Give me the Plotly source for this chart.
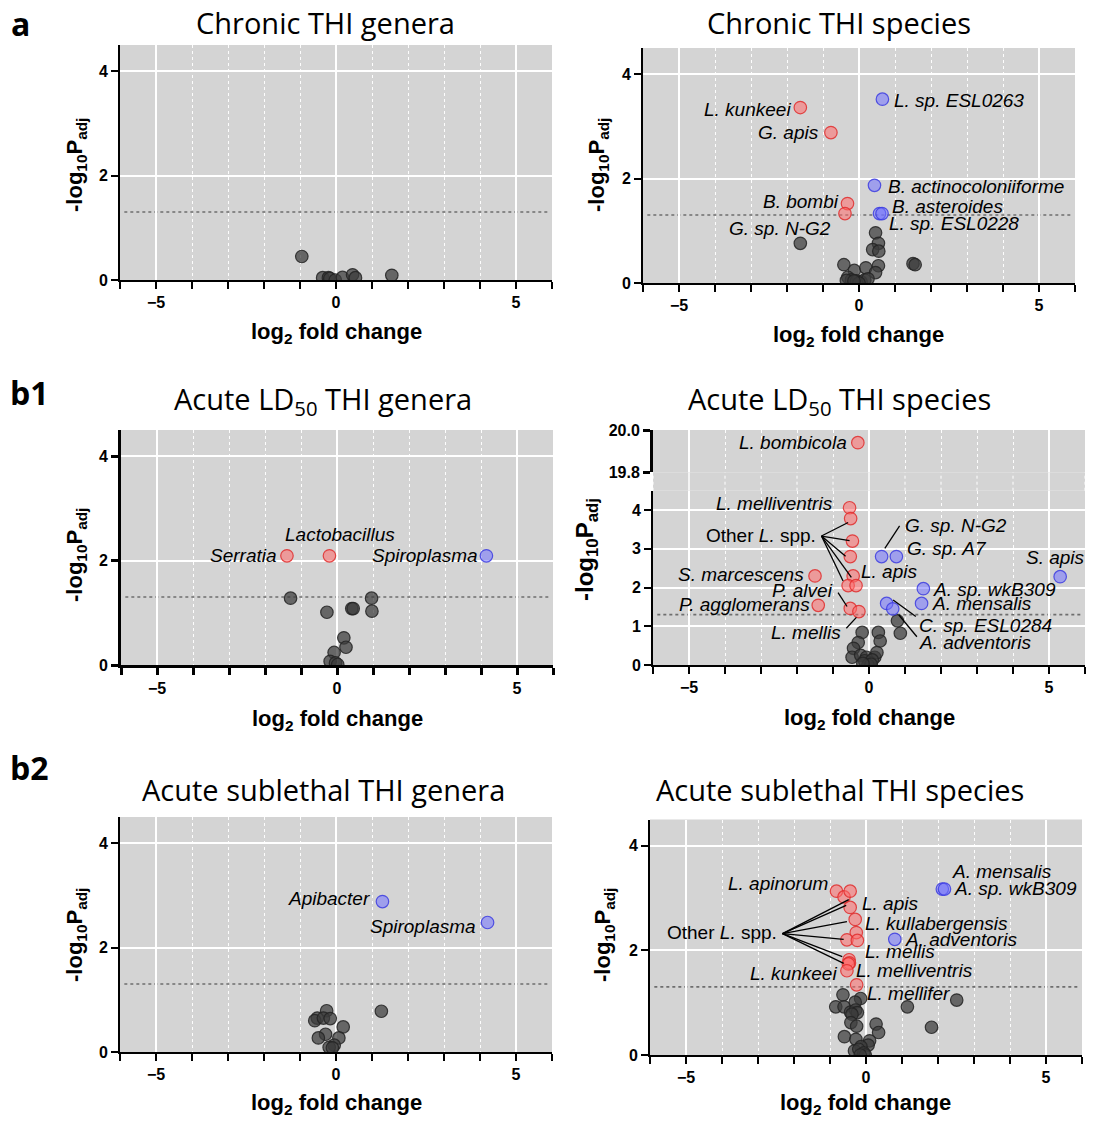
import math
import plotly.graph_objects as go

W, H = 1097, 1121

# ---------------- data ----------------
# Panel a (left): Chronic THI genera
chronic_gen_ns_x = [-0.95, -0.37, -0.21, -0.17, -0.02, 0.18, 0.46, 0.54, 1.55]
chronic_gen_ns_y = [0.45, 0.045, 0.045, 0.03, 0.0, 0.05, 0.10, 0.045, 0.09]

# Panel a (right): Chronic THI species
chronic_sp_down_x = [-1.63, -0.78, -0.32, -0.39]
chronic_sp_down_y = [3.36, 2.88, 1.52, 1.33]
chronic_sp_up_x = [0.65, 0.43, 0.57, 0.64]
chronic_sp_up_y = [3.52, 1.87, 1.33, 1.33]
chronic_sp_ns_x = [-1.63, 0.46, 0.54, 0.38, 0.55, -0.42, -0.13, 0.19, 0.54, 0.46, 1.50,
                   1.56, -0.31, -0.21, -0.35, -0.07, 0.06, 0.16, 0.25, 0.0, -0.14]
chronic_sp_ns_y = [0.76, 0.96, 0.76, 0.64, 0.61, 0.35, 0.24, 0.29, 0.33, 0.20, 0.37,
                   0.35, 0.11, 0.06, 0.05, 0.04, 0.02, 0.06, 0.08, 0.0, 0.04]

# Panel b1 (left): Acute LD50 THI genera
ld50_gen_down_x = [-1.39, -0.21]
ld50_gen_down_y = [2.09, 2.09]
ld50_gen_up_x = [4.15]
ld50_gen_up_y = [2.09]
ld50_gen_ns_x = [-1.29, 0.96, -0.28, 0.41, 0.45, 0.97, 0.19, 0.25, -0.08, -0.19, -0.04, 0.02]
ld50_gen_ns_y = [1.28, 1.28, 1.01, 1.08, 1.08, 1.03, 0.52, 0.34, 0.24, 0.07, 0.04, 0.01]

# Panel b1 (right): Acute LD50 THI species
ld50_sp_high_x = [-0.31]          # on the upper (broken) axis segment
ld50_sp_high_y = [19.94]
ld50_sp_down_x = [-0.54, -0.51, -0.46, -0.52, -0.44, -0.58, -0.36, -1.50, -1.41, -0.52, -0.28]
ld50_sp_down_y = [4.06, 3.78, 3.20, 2.80, 2.30, 2.05, 2.05, 2.30, 1.54, 1.46, 1.38]
ld50_sp_up_x = [0.35, 0.76, 5.31, 1.51, 1.46, 0.49, 0.66]
ld50_sp_up_y = [2.80, 2.80, 2.28, 1.97, 1.59, 1.59, 1.45]
ld50_sp_ns_x = [0.79, 0.87, -0.19, 0.26, 0.31, -0.30, -0.43, -0.47, -0.23, -0.07, 0.16,
                0.22, 0.02, -0.12, 0.09, -0.03, 0.06, -0.17]
ld50_sp_ns_y = [1.14, 0.82, 0.84, 0.84, 0.62, 0.58, 0.43, 0.20, 0.25, 0.20, 0.20,
                0.32, 0.06, 0.11, 0.13, 0.0, 0.02, 0.04]

# Panel b2 (left): Acute sublethal THI genera
sub_gen_up_x = [1.29, 4.21]
sub_gen_up_y = [2.88, 2.48]
sub_gen_ns_x = [1.26, -0.26, -0.52, -0.59, -0.35, -0.16, 0.20, -0.29, -0.49, 0.08, -0.05, -0.19, -0.10]
sub_gen_ns_y = [0.78, 0.79, 0.65, 0.60, 0.65, 0.64, 0.48, 0.34, 0.27, 0.27, 0.13, 0.09, 0.08]

# Panel b2 (right): Acute sublethal THI species
sub_sp_down_x = [-0.82, -0.61, -0.44, -0.44, -0.30, -0.27, -0.53, -0.24, -0.47, -0.46, -0.49, -0.53, -0.26]
sub_sp_down_y = [3.13, 3.02, 3.13, 2.82, 2.59, 2.34, 2.20, 2.19, 1.82, 1.76, 1.74, 1.61, 1.34]
sub_sp_up_x = [2.12, 2.18, 0.80]
sub_sp_up_y = [3.17, 3.17, 2.21]
sub_sp_ns_x = [-0.64, -0.15, -0.30, -0.84, -0.61, -0.43, -0.29, -0.24, -0.39, 1.15, 2.52, 1.82, -0.42,
               -0.26, 0.28, 0.35, -0.60, -0.28, 0.10, 0.06, -0.14, -0.32, -0.20, -0.06, -0.02, -0.16]
sub_sp_ns_y = [1.15, 1.08, 1.01, 0.92, 0.92, 0.82, 0.86, 0.81, 0.78, 0.92, 1.05, 0.53, 0.62,
               0.55, 0.59, 0.43, 0.35, 0.30, 0.27, 0.19, 0.16, 0.08, 0.11, 0.04, 0.0, 0.0]

P_ADJ_THRESHOLD = 0.05
x_tick_values = [-5, 0, 5]

panel_titles = ["Chronic THI genera", "Chronic THI species",
                "Acute LD<sub>50</sub> THI genera", "Acute LD<sub>50</sub> THI species",
                "Acute sublethal THI genera", "Acute sublethal THI species"]
panel_letters = ["a", "b1", "b2"]

# labels: (axis id, text, x, y, xanchor)
labels = [
    (2, "<i>L. kunkeei</i>", -1.83, 3.33, "right"),
    (2, "<i>G. apis</i>", -1.05, 2.89, "right"),
    (2, "<i>L. sp. ESL0263</i>", 0.92, 3.50, "left"),
    (2, "<i>B. actinocoloniiforme</i>", 0.74, 1.85, "left"),
    (2, "<i>B. bombi</i>", -0.51, 1.56, "right"),
    (2, "<i>B. asteroides</i>", 0.85, 1.46, "left"),
    (2, "<i>L. sp. ESL0228</i>", 0.79, 1.13, "left"),
    (2, "<i>G. sp. N-G2</i>", -0.72, 1.05, "right"),
    (3, "<i>Serratia</i>", -1.62, 2.09, "right"),
    (3, "<i>Lactobacillus</i>", 0.09, 2.49, "center"),
    (3, "<i>Spiroplasma</i>", 3.96, 2.09, "right"),
    (7, "<i>L. bombicola</i>", -0.56, 19.94, "right"),
    (4, "<i>L. melliventris</i>", -0.95, 4.17, "right"),
    (4, "Other <i>L.</i> spp.", -1.42, 3.35, "right"),
    (4, "<i>G. sp. N-G2</i>", 0.94, 3.59, "left"),
    (4, "<i>G. sp. A7</i>", 1.0, 3.01, "left"),
    (4, "<i>L. apis</i>", -0.28, 2.41, "left"),
    (4, "<i>S. apis</i>", 5.19, 2.78, "center"),
    (4, "<i>S. marcescens</i>", -1.74, 2.34, "right"),
    (4, "<i>P. alvei</i>", -0.95, 1.92, "right"),
    (4, "<i>P. agglomerans</i>", -1.57, 1.57, "right"),
    (4, "<i>A. sp. wkB309</i>", 1.73, 1.95, "left"),
    (4, "<i>A. mensalis</i>", 1.69, 1.59, "left"),
    (4, "<i>C. sp. ESL0284</i>", 1.33, 1.03, "left"),
    (4, "<i>A. adventoris</i>", 1.34, 0.58, "left"),
    (4, "<i>L. mellis</i>", -0.72, 0.84, "right"),
    (5, "<i>Apibacter</i>", 0.99, 2.93, "right"),
    (5, "<i>Spiroplasma</i>", 3.95, 2.41, "right"),
    (6, "<i>L. apinorum</i>", -1.01, 3.28, "right"),
    (6, "<i>A. mensalis</i>", 2.33, 3.50, "left"),
    (6, "<i>A. sp. wkB309</i>", 2.38, 3.18, "left"),
    (6, "<i>L. apis</i>", -0.16, 2.90, "left"),
    (6, "<i>L. kullabergensis</i>", -0.08, 2.52, "left"),
    (6, "Other <i>L.</i> spp.", -2.42, 2.34, "right"),
    (6, "<i>A. adventoris</i>", 1.02, 2.21, "left"),
    (6, "<i>L. mellis</i>", -0.08, 1.97, "left"),
    (6, "<i>L. melliventris</i>", -0.34, 1.61, "left"),
    (6, "<i>L. kunkeei</i>", -0.76, 1.55, "right"),
    (6, "<i>L. mellifer</i>", -0.04, 1.17, "left"),
]

# leader lines: (axis id, x0, y0, x1, y1)
leaders = [
    (4, -1.32, 3.33, -0.58, 3.68), (4, -1.32, 3.33, -0.54, 3.21), (4, -1.32, 3.33, -0.65, 2.81),
    (4, -1.32, 3.33, -0.49, 2.26), (4, -1.32, 3.33, -0.72, 2.17),
    (4, -0.86, 1.87, -0.61, 1.51), (4, -0.63, 0.95, -0.35, 1.23),
    (4, 0.85, 3.59, 0.44, 3.01), (4, 0.67, 1.68, 1.30, 1.25), (4, 0.83, 1.29, 1.33, 0.73),
    (6, -2.32, 2.32, -0.48, 2.97), (6, -2.32, 2.32, -0.55, 2.86), (6, -2.32, 2.32, -0.53, 2.55),
    (6, -2.32, 2.32, -0.62, 2.21), (6, -2.32, 2.32, -0.66, 1.88), (6, -2.32, 2.32, -0.62, 1.75),
]

# ---------------- layout geometry (pixels) ----------------
dom = {
    1: (120, 552, 45, 280),
    2: (643, 1075, 48, 283),
    3: (121, 553, 430, 665),
    4: (653, 1085, 490.7, 665),
    5: (120, 552, 817, 1052),
    6: (650, 1082, 819.5, 1055),
}
upper_dom = (430, 472.3)


def sfx(k):
    return "" if k == 1 else str(k)


def px_x(px):
    return px / W


def px_y(py):
    return 1 - py / H


BG = "#d4d4d4"
GRAY_FILL = "rgba(60,60,60,0.72)"
GRAY_LINE = "rgba(35,35,35,0.85)"
RED_FILL = "rgba(255,105,105,0.55)"
RED_LINE = "rgba(225,45,45,0.85)"
BLUE_FILL = "rgba(115,115,255,0.55)"
BLUE_LINE = "rgba(60,60,225,0.85)"

fig = go.Figure()


def add_pts(ax, ay, xs, ys, fill, line):
    if not xs:
        return
    fig.add_trace(go.Scatter(
        x=xs, y=ys, mode="markers", xaxis=ax, yaxis=ay, showlegend=False, hoverinfo="x+y",
        marker=dict(size=12.5, color=fill, line=dict(color=line, width=1.2))))


panels = {
    1: ([], [], [], [], chronic_gen_ns_x, chronic_gen_ns_y),
    2: (chronic_sp_down_x, chronic_sp_down_y, chronic_sp_up_x, chronic_sp_up_y, chronic_sp_ns_x, chronic_sp_ns_y),
    3: (ld50_gen_down_x, ld50_gen_down_y, ld50_gen_up_x, ld50_gen_up_y, ld50_gen_ns_x, ld50_gen_ns_y),
    4: (ld50_sp_down_x, ld50_sp_down_y, ld50_sp_up_x, ld50_sp_up_y, ld50_sp_ns_x, ld50_sp_ns_y),
    5: ([], [], sub_gen_up_x, sub_gen_up_y, sub_gen_ns_x, sub_gen_ns_y),
    6: (sub_sp_down_x, sub_sp_down_y, sub_sp_up_x, sub_sp_up_y, sub_sp_ns_x, sub_sp_ns_y),
}

for k, (dx, dy, ux, uy, nx, ny) in panels.items():
    ax, ay = f"x{sfx(k)}", f"y{sfx(k)}"
    add_pts(ax, ay, nx, ny, GRAY_FILL, GRAY_LINE)
    add_pts(ax, ay, dx, dy, RED_FILL, RED_LINE)
    add_pts(ax, ay, ux, uy, BLUE_FILL, BLUE_LINE)

add_pts("x4", "y7", ld50_sp_high_x, ld50_sp_high_y, RED_FILL, RED_LINE)

tick_font = dict(family="Liberation Sans, Arial", size=16, color="black", weight="bold")

layout = dict(width=W, height=H, margin=dict(l=0, r=0, t=0, b=0, autoexpand=False), autosize=False,
              paper_bgcolor="white", plot_bgcolor=BG, showlegend=False)

for k, (x0, x1, y0, y1) in dom.items():
    lw = 3 if k == 3 else 2
    layout[f"xaxis{sfx(k)}"] = dict(
        domain=[px_x(x0), px_x(x1)], anchor=f"y{sfx(k)}", range=[-6, 6],
        tickvals=x_tick_values, ticks="outside", ticklen=7, tickwidth=lw, tickcolor="black",
        showline=True, linecolor="black", linewidth=lw, zeroline=False,
        showgrid=True, gridcolor="white", gridwidth=1.5, tickfont=tick_font,
        minor=dict(dtick=1, tick0=0, ticks="outside", ticklen=7, tickwidth=lw, tickcolor="black",
                   showgrid=True, gridcolor="rgba(255,255,255,0.95)", griddash="dot", gridwidth=1),
        fixedrange=True)
    layout[f"yaxis{sfx(k)}"] = dict(
        domain=[px_y(y1), px_y(y0)], anchor=f"x{sfx(k)}", range=[0, 4.5],
        dtick=1 if k == 4 else 2, tick0=0, ticks="outside", ticklen=7, tickwidth=lw, tickcolor="black",
        showline=True, linecolor="black", linewidth=lw, zeroline=False,
        showgrid=True, gridcolor="white", gridwidth=1.5, tickfont=tick_font, fixedrange=True)

layout["yaxis7"] = dict(
    domain=[px_y(upper_dom[1]), px_y(upper_dom[0])], anchor="x4", range=[19.8, 20.0],
    tickvals=[19.8, 20.0], ticktext=["19.8", "20.0"], ticks="outside", ticklen=7, tickwidth=3,
    tickcolor="black", showline=True, linecolor="black", linewidth=3, zeroline=False,
    showgrid=True, gridcolor="white", gridwidth=1.5, tickfont=tick_font, fixedrange=True)

fig.update_layout(**layout)

shapes = []
# gap between broken-axis segments
x0, x1, _, _ = dom[4]
shapes.append(dict(type="rect", xref="paper", yref="paper", x0=px_x(x0), x1=px_x(x1),
                   y0=px_y(dom[4][2]), y1=px_y(upper_dom[1]), fillcolor=BG, line=dict(width=0),
                   layer="below"))
for gx in range(-6, 7):
    major = gx % 5 == 0
    shapes.append(dict(type="line", xref="x4", yref="paper", x0=gx, x1=gx,
                       y0=px_y(dom[4][2]), y1=px_y(upper_dom[1]),
                       line=dict(color="white", width=1.5 if major else 1, dash="solid" if major else "dot"),
                       layer="below"))

thr = -math.log10(P_ADJ_THRESHOLD)
for k in dom:
    shapes.append(dict(type="line", xref=f"x{sfx(k)} domain", yref=f"y{sfx(k)}", x0=0.01, x1=0.99,
                       y0=thr, y1=thr, line=dict(color="#6e6e6e", width=1.6, dash="dot"), layer="below"))

for (k, xa, ya, xb, yb) in leaders:
    shapes.append(dict(type="line", xref=f"x{sfx(k)}", yref=f"y{sfx(k)}", x0=xa, y0=ya, x1=xb, y1=yb,
                       line=dict(color="black", width=1.3)))

fig.update_layout(shapes=shapes)

annotations = []
label_font = dict(family="Liberation Sans, Arial", size=19, color="black")
for (k, txt, lx, ly, anc) in labels:
    xr = "x4" if k == 7 else f"x{sfx(k)}"
    annotations.append(dict(xref=xr, yref=f"y{sfx(k)}", x=lx, y=ly, text=txt, showarrow=False,
                            xanchor=anc, yanchor="middle", font=label_font))

title_font = dict(family="Open Sans, Noto Sans", size=29, color="black")
title_pos = [(325, 22), (839, 22), (323, 400), (839, 400), (323, 789), (840, 789)]
for i, (t, (tx, ty)) in enumerate(zip(panel_titles, title_pos)):
    if i < 2:
        annotations.append(dict(xref="paper", yref="paper", x=px_x(tx), y=px_y(1), text=t,
                                showarrow=False, xanchor="center", yanchor="top", font=title_font))
    else:
        annotations.append(dict(xref="paper", yref="paper", x=px_x(tx), y=px_y(ty), text=t,
                                showarrow=False, xanchor="center", yanchor="middle", font=title_font))

letter_font = dict(family="Open Sans, Noto Sans", size=32, color="black", weight="bold")
annotations.append(dict(xref="paper", yref="paper", x=px_x(9), y=px_y(0.5), text=panel_letters[0],
                        showarrow=False, xanchor="left", yanchor="top", font=letter_font))
for t, (tx, ty) in zip(panel_letters[1:], [(8, 393), (8, 768)]):
    annotations.append(dict(xref="paper", yref="paper", x=px_x(tx), y=px_y(ty), text=t,
                            showarrow=False, xanchor="left", yanchor="middle", font=letter_font))

axis_title_font = dict(family="Liberation Sans, Arial", size=22, color="black", weight="bold")
xt_pos = [(336, 333), (858, 336), (337, 720), (869, 719)]
for (tx, ty) in xt_pos:
    annotations.append(dict(xref="paper", yref="paper", x=px_x(tx), y=px_y(ty),
                            text="log<sub>2</sub> fold change", showarrow=False,
                            xanchor="center", yanchor="middle", font=axis_title_font))
for tx in (336, 865):
    annotations.append(dict(xref="paper", yref="paper", x=px_x(tx), y=px_y(1120),
                            text="log<sub>2</sub> fold change", showarrow=False,
                            xanchor="center", yanchor="bottom", font=axis_title_font))
yt_pos = [(76, 165, 22), (598, 165, 22), (76, 555, 22), (586, 550, 24), (76, 935, 22), (604, 935, 22)]
for (tx, ty, fs) in yt_pos:
    annotations.append(dict(xref="paper", yref="paper", x=px_x(tx), y=px_y(ty),
                            text="-log<sub>10</sub>P<sub>adj</sub>", showarrow=False, textangle=-90,
                            xanchor="center", yanchor="middle", font=dict(axis_title_font, size=fs)))

fig.update_layout(annotations=annotations)

fig.write_html("out.html")
